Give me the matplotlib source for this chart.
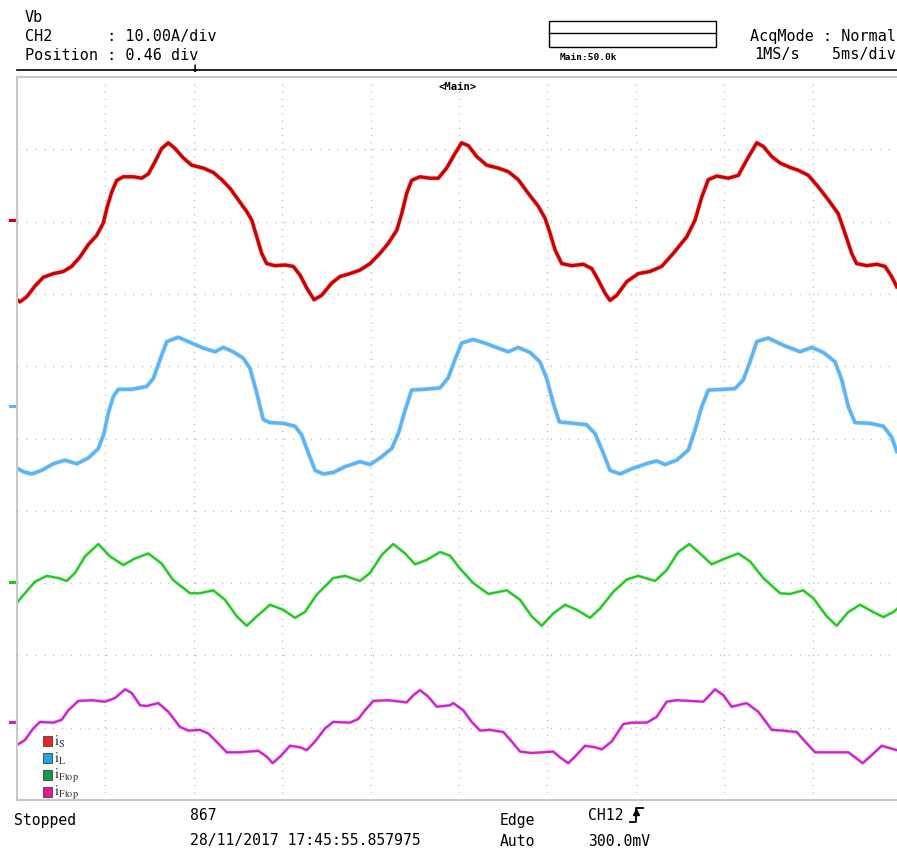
import matplotlib
matplotlib.use("Agg")
import matplotlib.pyplot as plt
from matplotlib.patches import Rectangle
from matplotlib.lines import Line2D

# trace samples: time in ms, level in divisions from bottom
red_t = [0.00, 0.17, 0.55, 1.02, 1.49, 2.05, 2.62, 3.09, 3.56, 4.03, 4.51, 4.88, 5.11, 5.36, 5.64,
         6.01, 6.58, 7.05, 7.43, 7.81, 8.18, 8.56, 8.94, 9.41, 9.88, 10.54, 11.10, 11.58, 12.05,
         12.52, 12.99, 13.28, 13.56, 13.84, 14.12, 14.59, 15.16, 15.63, 16.01, 16.39, 16.80,
         17.23, 17.80, 18.27, 18.83, 19.40, 19.97, 20.53, 21.00, 21.48, 21.76, 22.04, 22.32,
         22.79, 23.36, 23.83, 24.30, 24.77, 25.15, 25.53, 26.00, 26.57, 27.22, 27.79, 28.35,
         28.92, 29.49, 29.86, 30.15, 30.43, 30.81, 31.37, 32.03, 32.51, 32.88, 33.26, 33.54,
         33.92, 34.49, 35.14, 35.80, 36.46, 37.12, 37.88, 38.35, 38.73, 39.10, 39.58, 40.23,
         40.80, 41.27, 41.84, 42.21, 42.69, 43.16, 43.72, 44.19, 44.76, 45.32, 45.89, 46.45,
         46.83, 47.21, 47.49, 48.06, 48.63, 49.10, 49.47, 49.76]
red_v = [6.92, 6.89, 6.96, 7.11, 7.23, 7.28, 7.31, 7.38, 7.51, 7.68, 7.81, 7.98, 8.21, 8.41, 8.57,
         8.62, 8.62, 8.60, 8.66, 8.83, 9.01, 9.09, 9.01, 8.88, 8.78, 8.74, 8.68, 8.58, 8.46,
         8.30, 8.14, 8.02, 7.79, 7.56, 7.42, 7.39, 7.40, 7.38, 7.26, 7.08, 6.92,
         6.98, 7.15, 7.24, 7.28, 7.33, 7.42, 7.56, 7.70, 7.88, 8.11, 8.39, 8.57,
         8.62, 8.60, 8.60, 8.74, 8.94, 9.09, 9.05, 8.90, 8.78, 8.74, 8.69, 8.58,
         8.39, 8.21, 8.05, 7.84, 7.61, 7.42, 7.39, 7.41, 7.35, 7.19, 7.01, 6.91,
         6.98, 7.17, 7.28, 7.31, 7.38, 7.56, 7.79, 8.02, 8.34, 8.58, 8.63, 8.60,
         8.64, 8.85, 9.09, 9.04, 8.90, 8.81, 8.75, 8.71, 8.64, 8.48, 8.30, 8.11,
         7.84, 7.56, 7.42, 7.39, 7.41, 7.38, 7.24, 7.10]

blue_t = [0.00, 0.36, 0.83, 1.40, 2.05, 2.71, 3.38, 4.03, 4.60, 4.92, 5.16, 5.45, 5.73, 6.49,
          7.34, 7.71, 8.09, 8.47, 9.12, 9.79, 10.54, 11.20, 11.67, 12.23, 12.80, 13.18, 13.56,
          13.93, 14.31, 15.06, 15.72, 16.10, 16.48, 16.86, 17.32, 17.89, 18.55, 19.40, 19.97,
          20.53, 21.19, 21.57, 21.95, 22.32, 22.98, 23.93, 24.39, 24.77, 25.15, 25.81, 26.57,
          27.22, 27.79, 28.35, 29.02, 29.58, 29.96, 30.33, 30.67, 31.46, 32.22, 32.69, 33.16,
          33.54, 34.11, 34.86, 35.71, 36.18, 36.65, 37.31, 37.97, 38.35, 38.73, 39.10, 39.95,
          40.61, 41.08, 41.46, 41.84, 42.49, 43.34, 44.29, 44.95, 45.61, 46.27, 46.65, 47.02,
          47.40, 48.25, 49.00, 49.47, 49.76]
blue_v = [4.59, 4.54, 4.51, 4.56, 4.65, 4.70, 4.65, 4.73, 4.86, 5.07, 5.35, 5.58, 5.68, 5.68,
          5.72, 5.83, 6.09, 6.34, 6.40, 6.33, 6.25, 6.20, 6.26, 6.20, 6.11, 5.97, 5.63,
          5.26, 5.22, 5.21, 5.17, 5.05, 4.80, 4.56, 4.51, 4.53, 4.61, 4.68, 4.64,
          4.73, 4.86, 5.07, 5.39, 5.67, 5.68, 5.70, 5.84, 6.09, 6.32, 6.37, 6.31,
          6.25, 6.20, 6.26, 6.19, 6.06, 5.83, 5.49, 5.23, 5.21, 5.19, 5.07, 4.80,
          4.56, 4.51, 4.59, 4.66, 4.69, 4.64, 4.70, 4.84, 5.12, 5.44, 5.67, 5.68,
          5.69, 5.81, 6.06, 6.34, 6.39, 6.29, 6.20, 6.26, 6.19, 6.06, 5.81, 5.44,
          5.22, 5.21, 5.17, 5.02, 4.82]

green_t = [0.00, 0.45, 1.02, 1.68, 2.34, 2.81, 3.28, 3.85, 4.60, 5.26, 6.01, 6.67, 7.43, 8.18,
           8.84, 9.79, 10.35, 11.10, 11.76, 12.43, 12.99, 13.56, 14.31, 15.06, 15.72, 16.29,
           16.95, 17.89, 18.55, 19.40, 19.97, 20.63, 21.28, 21.95, 22.51, 23.17, 23.93, 24.49,
           25.06, 25.81, 26.66, 27.70, 28.45, 29.11, 29.68, 30.33, 31.00, 31.66, 32.41, 32.98,
           33.73, 34.49, 35.14, 36.09, 36.75, 37.40, 38.03, 38.63, 39.29, 40.05, 40.80, 41.46,
           42.21, 43.16, 43.72, 44.47, 45.04, 45.80, 46.36, 47.02, 47.68, 48.43, 49.00, 49.57,
           49.76]
green_v = [2.73, 2.86, 3.02, 3.10, 3.07, 3.03, 3.14, 3.37, 3.54, 3.37, 3.25, 3.34, 3.41, 3.27,
           3.04, 2.86, 2.86, 2.90, 2.77, 2.54, 2.41, 2.54, 2.70, 2.63, 2.52, 2.60,
           2.84, 3.07, 3.10, 3.03, 3.14, 3.39, 3.54, 3.41, 3.26, 3.32, 3.43, 3.38,
           3.20, 3.00, 2.85, 2.90, 2.77, 2.54, 2.41, 2.58, 2.70, 2.63, 2.52, 2.65,
           2.88, 3.05, 3.10, 3.03, 3.18, 3.43, 3.54, 3.41, 3.26, 3.34, 3.41, 3.30,
           3.07, 2.86, 2.85, 2.90, 2.79, 2.54, 2.41, 2.60, 2.70, 2.60, 2.53, 2.60,
           2.64]

mag_t = [0.00, 0.45, 0.92, 1.30, 2.05, 2.53, 2.90, 3.47, 4.23, 4.98, 5.54, 6.11, 6.49, 6.96,
         7.34, 7.99, 8.56, 9.22, 9.69, 10.35, 10.82, 11.39, 11.86, 12.61, 13.65, 14.12, 14.46,
         14.88, 15.44, 16.01, 16.39, 16.86, 17.42, 17.89, 18.83, 19.30, 19.68, 20.15, 21.00,
         22.04, 22.42, 22.79, 23.26, 23.74, 24.49, 24.68, 25.24, 25.72, 26.19, 26.75, 27.51,
         27.98, 28.45, 29.11, 30.33, 30.71, 31.18, 31.56, 32.13, 32.69, 33.07, 33.64, 34.29,
         34.77, 35.62, 36.18, 36.75, 37.31, 38.82, 39.48, 39.95, 40.42, 41.27, 41.93, 42.69,
         43.34, 44.10, 44.57, 45.14, 46.17, 47.02, 47.40, 47.83, 48.25, 48.91, 49.47, 49.76]
mag_v = [0.76, 0.83, 0.99, 1.08, 1.07, 1.11, 1.24, 1.37, 1.38, 1.36, 1.41, 1.53, 1.48, 1.31,
         1.30, 1.34, 1.22, 1.01, 0.96, 0.97, 0.92, 0.78, 0.66, 0.66, 0.68, 0.60, 0.51,
         0.60, 0.75, 0.73, 0.69, 0.81, 0.99, 1.08, 1.07, 1.12, 1.24, 1.37, 1.38,
         1.35, 1.45, 1.52, 1.43, 1.29, 1.31, 1.34, 1.24, 1.08, 0.96, 0.97, 0.94,
         0.81, 0.67, 0.65, 0.67, 0.59, 0.51, 0.60, 0.75, 0.73, 0.70, 0.81, 1.05,
         1.07, 1.07, 1.15, 1.36, 1.38, 1.36, 1.53, 1.45, 1.29, 1.34, 1.22, 0.97,
         0.96, 0.94, 0.81, 0.66, 0.66, 0.66, 0.59, 0.51, 0.60, 0.75, 0.71, 0.69]

# channel ground markers (div)
zero_levels = [8.02, 5.45, 3.02, 1.08]

trace_colors = ['#cc0000', '#5cb4f6', '#22c822', '#cc22cc']
legend_colors = ['#ee2222', '#1fa8ec', '#00a04c', '#ee1199']
legend_labels = [r'$\mathrm{i}_{\mathrm{S}}$', r'$\mathrm{i}_{\mathrm{L}}$',
                 r'$\mathrm{i}_{\mathrm{Ftop}}$', r'$\mathrm{i}_{\mathrm{Ftop}}$']

W, H = 897, 850
MONO = 'DejaVu Sans Mono'
plt.rcParams['mathtext.fontset'] = 'stix'
plt.rcParams['lines.scale_dashes'] = False


def fx(x):
    return x / W


def fy(y):
    return 1 - y / H


fig = plt.figure(figsize=(W / 100, H / 100), dpi=100)
fig.patch.set_facecolor('white')
ax = fig.add_axes([fx(17), fy(800), (901 - 17) / W, (800 - 77) / H])
ax.set_xlim(0, 50)
ax.set_ylim(0, 10)
ax.set_xticks(range(0, 51, 5))
ax.set_yticks(range(0, 11))
ax.tick_params(length=0, labelbottom=False, labelleft=False)
ax.xaxis.grid(True, color='#b8b8b8', linewidth=1.0, linestyle=(0, (0.8, 4.4)))
ax.yaxis.grid(True, color='#b8b8b8', linewidth=1.0, linestyle=(0, (0.8, 5.6)))
for side in ['left', 'top', 'bottom']:
    ax.spines[side].set_color('#c8c8c8')
    ax.spines[side].set_linewidth(1.5)
ax.spines['right'].set_visible(False)

# traces (faint wide pass gives the noisy band look)
series = [(red_t, red_v, 2.4), (blue_t, blue_v, 2.5), (green_t, green_v, 1.6), (mag_t, mag_v, 1.6)]
for (t, v, lw), c in zip(series, trace_colors):
    ax.plot(t, v, color=c, linewidth=lw + 1.0, alpha=0.25)
    ax.plot(t, v, color=c, linewidth=lw, solid_joinstyle='round')

# ground markers left of the screen
for lvl, c in zip(zero_levels, trace_colors):
    ax.plot([-0.40, -0.08], [lvl, lvl], color=c, linewidth=2.2, clip_on=False)

# legend in the lower left corner
leg_y = [741, 758, 775, 792]
for yy, c, lab in zip(leg_y, legend_colors, legend_labels):
    fig.patches.append(Rectangle((fx(42.5), fy(yy + 4.8)), 9.5 / W, 9.5 / H,
                                 transform=fig.transFigure, facecolor=c,
                                 edgecolor='#555555', linewidth=0.8))
    fig.text(fx(54), fy(yy + 1), lab, fontsize=10.6, ha='left', va='center', color='#333333')

# header
fs = 10.9
fig.text(fx(25), fy(17), 'Vb', family=MONO, fontsize=fs, va='center')
fig.text(fx(25), fy(36), 'CH2      : 10.00A/div', family=MONO, fontsize=fs, va='center')
fig.text(fx(25), fy(55), 'Position : 0.46 div', family=MONO, fontsize=fs, va='center')
fig.text(fx(896), fy(36), 'AcqMode : Normal', family=MONO, fontsize=fs, va='center', ha='right')
fig.text(fx(754), fy(55), '1MS/s', family=MONO, fontsize=fs, va='center')
fig.text(fx(896), fy(55), '5ms/div', family=MONO, fontsize=fs, va='center', ha='right')

fig.patches.append(Rectangle((fx(549), fy(46.7)), 167 / W, 26 / H, transform=fig.transFigure,
                             facecolor='none', edgecolor='black', linewidth=1.0))
fig.add_artist(Line2D([fx(549), fx(716)], [fy(33.3), fy(33.3)], color='black', linewidth=1.0))
fig.text(fx(560), fy(57), 'Main:50.0k', family=MONO, fontsize=6.8, weight='bold', va='center')

fig.add_artist(Line2D([fx(17), fx(897)], [fy(70), fy(70)], color='black', linewidth=1.2))
fig.text(fx(194), fy(68), '\u2193', family=MONO, fontsize=10, weight='bold', ha='center', va='center')
fig.text(fx(458), fy(87), '<Main>', family=MONO, fontsize=7.6, weight='bold', ha='center', va='center')

# footer
fs2 = 10.6
fig.text(fx(14), fy(820), 'Stopped', family=MONO, fontsize=fs2, va='center')
fig.text(fx(190), fy(815), '867', family=MONO, fontsize=fs2, va='center')
fig.text(fx(190), fy(841), '28/11/2017 17:45:55.857975', family=MONO, fontsize=fs2, va='center')
fig.text(fx(500), fy(820), 'Edge', family=MONO, fontsize=fs2, va='center')
fig.text(fx(500), fy(841), 'Auto', family=MONO, fontsize=fs2, va='center')
fig.text(fx(588), fy(815), 'CH12', family=MONO, fontsize=fs2, va='center')
fig.text(fx(588), fy(841), '300.0mV', family=MONO, fontsize=fs2, va='center')

# rising edge trigger icon
fig.add_artist(Line2D([fx(630), fx(636), fx(636), fx(643)],
                      [fy(822), fy(822), fy(808), fy(808)], color='black', linewidth=1.3))
fig.add_artist(Line2D([fx(636)], [fy(812)], marker='^', markersize=4, color='black'))

fig.savefig('out.png', dpi=100)
